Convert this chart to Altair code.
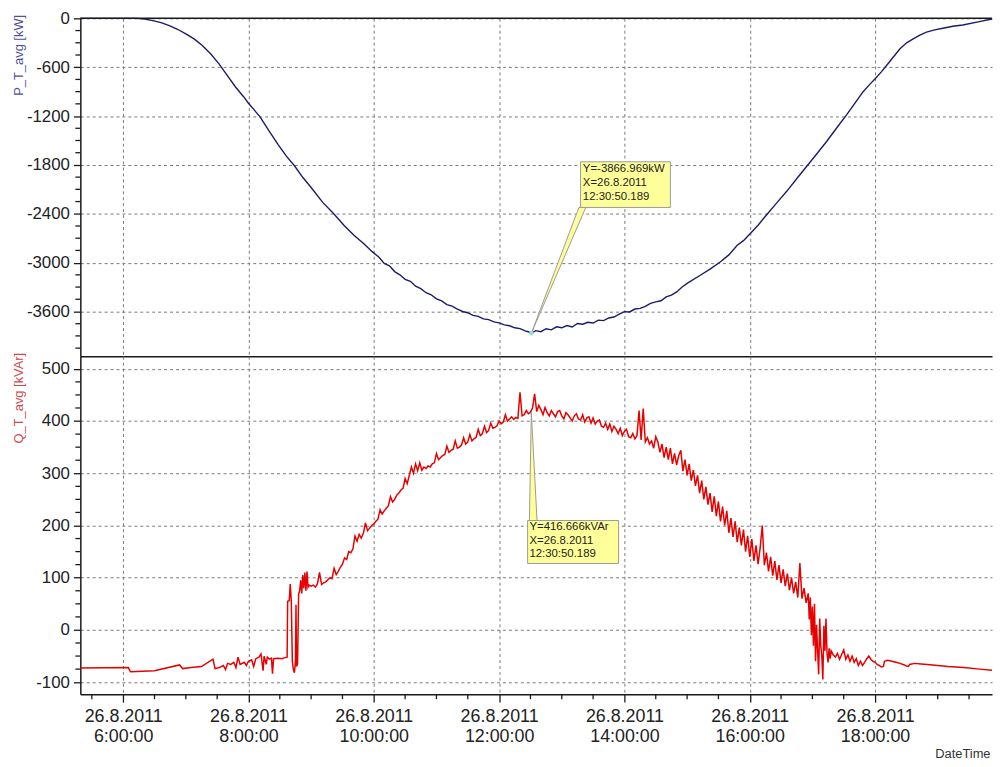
import altair as alt
import pandas as pd

# ---------------- data (minutes after midnight, 26.8.2011) ----------------
p_minutes = [319, 372.6, 380.5, 388.4, 396.3, 404.2, 412.1, 420, 427.9, 435.8, 443.7, 451.6, 459.5,
             467.4, 475.3, 480, 491.1, 498.9, 508.4, 516.3, 524.2, 532.1, 540, 551.1, 562.1, 571.6,
             581, 590.5, 598.7,
             605, 610, 615, 620, 625, 630, 635, 640, 645, 650, 655, 660, 665, 670, 675, 680,
             685, 690, 695, 700, 705, 710, 715, 720, 725, 730, 735, 740, 745, 750, 751,
             755, 760, 765, 770, 775, 780, 785, 790, 795, 800, 805, 810, 815, 820, 825, 830,
             835, 840, 845, 850, 855, 860, 865, 870, 875, 880, 885, 890, 895, 900,
             913, 922, 932, 940, 948, 954, 960.3, 968, 976.8, 986.3, 995.8, 1005.3, 1014.8, 1024.3,
             1033.8, 1043.2, 1052.7, 1060.6, 1068.6, 1074.9, 1080.3, 1086, 1091.2, 1097.5, 1103.9,
             1110.2, 1116.5, 1122.9, 1129.2, 1137.1, 1145, 1154.5, 1164, 1179.9, 1192]
p_values = [0, 0, -8, -28, -53, -89, -134, -190, -252, -333, -434, -556, -698,
            -840, -962, -1043, -1209, -1367, -1550, -1692, -1813, -1955, -2077, -2260, -2406, -2544,
            -2665, -2767, -2868,
            -2935, -3010, -3040, -3110, -3150, -3205, -3230, -3290, -3320, -3370, -3395, -3445, -3470, -3515, -3535, -3570,
            -3600, -3615, -3648, -3660, -3690, -3700, -3728, -3740, -3765, -3775, -3800, -3810, -3838, -3858, -3867,
            -3835, -3848, -3812, -3826, -3788, -3800, -3772, -3790, -3748, -3756, -3732, -3742, -3706, -3712, -3680, -3668,
            -3632, -3602, -3606, -3570, -3562, -3536, -3500, -3482, -3468, -3420, -3400, -3360, -3302, -3255,
            -3152, -3080, -2990, -2905, -2787, -2730, -2645, -2540, -2402, -2260, -2118, -1964, -1813, -1663,
            -1509, -1347, -1185, -1043, -901, -811, -738, -657, -576, -475, -373,
            -300, -252, -207, -170, -142, -122, -97, -81, -41, -8]

q_early_minutes = [319, 365, 367, 390, 414, 417, 425, 435, 446, 448, 452, 456, 458, 460, 463, 466,
                   468, 470, 472, 476, 478, 480, 483, 485, 487, 490, 492, 494, 495, 497, 498, 500,
                   502, 503, 504, 508, 512, 515, 517, 517.5, 519, 520, 521, 522, 523, 524, 525,
                   525.5, 526, 527, 528, 529, 530, 531, 532, 533, 534, 535, 536, 537, 538]
q_early_values = [-73, -72, -80, -78, -67, -74, -72, -70, -56, -74, -72, -68, -76, -64, -66, -62,
                  -72, -52, -66, -62, -68, -60, -57, -70, -55, -52, -46, -78, -50, -66, -52, -56,
                  -54, -84, -55, -54, -55, -53, -52, 55, 56, 88, 55, -60, -76, -82, -60,
                  48, -70, -65, 68, 75, 95, 70, 105, 80, 110, 75, 112, 82, 86]

q_rise_start, q_rise_step = 540, 2
q_rise_values = [84, 86, 82, 88, 110, 87, 90, 92, 96, 100,
                 98, 118, 106, 112, 120, 126, 138, 135, 150, 148,
                 155, 180, 170, 183, 176, 185, 205, 190, 195, 200,
                 203, 208, 212, 230, 222, 228, 233, 238, 255, 245,
                 250, 258, 262, 268, 271, 290, 280, 296, 312, 300,
                 318, 305, 320, 306, 312, 309, 314, 312, 318, 320,
                 338, 326, 330, 334, 336, 352, 340, 344, 346, 362,
                 348, 350, 354, 368, 356, 360, 374, 362, 366, 369,
                 384, 372, 376, 390, 378, 382, 396, 386, 388, 391,
                 400, 395, 398, 412, 400, 404, 408, 403, 407, 405,
                 455, 410, 412, 420, 414, 417]

q_fall_start, q_fall_step = 752, 2
q_fall_values = [425, 452, 418, 430, 422, 412, 426, 416, 410, 420,
                 414, 408, 418, 420, 410, 404, 416, 412, 406, 400,
                 410, 414, 404, 402, 412, 398, 406, 408, 396, 406,
                 394, 400, 402, 390, 388, 396, 384, 394, 380, 390,
                 384, 376, 386, 372, 380, 384, 370, 368, 376, 366,
                 372, 420, 364, 424, 360, 368, 356, 362, 348, 370,
                 360, 340, 356, 330, 350, 326, 348, 318, 338, 316,
                 334, 344, 304, 326, 296, 318, 286, 306, 276, 296,
                 262, 286, 250, 274, 240, 262, 226, 256, 218, 246,
                 208, 236, 200, 228, 186, 214, 178, 208, 168, 196,
                 162, 192, 150, 180, 140, 174, 132, 162, 126, 158,
                 200, 124, 148, 112, 140, 104, 132, 96, 124, 90,
                 116, 84, 108, 76, 100, 70, 92, 62, 128, 60,
                 80, 52, 70]

q_drop_minutes = [1017, 1018, 1019, 1020, 1021, 1022, 1023, 1024, 1025, 1026, 1027, 1028,
                  1029, 1030, 1031, 1032, 1033, 1034, 1035, 1036, 1037, 1038, 1040]
q_drop_values = [20, 62, -10, 45, -30, 50, -60, 10, -40, -85, 22, -30,
                 -50, -95, 8, -40, 22, -45, -62, -35, -55, -40, -48]

q_tail_minutes = [1042, 1044, 1046, 1048, 1050, 1052, 1054, 1056, 1058, 1060, 1062, 1064,
                  1066, 1068, 1070, 1072, 1074, 1076, 1078, 1080, 1082, 1084, 1086, 1088,
                  1089, 1092, 1096, 1100, 1104, 1108, 1110, 1112, 1113, 1118, 1124, 1130,
                  1140, 1150, 1165, 1180, 1192]
q_tail_values = [-52, -45, -56, -47, -38, -56, -48, -60, -50, -62, -55, -68,
                 -60, -68, -62, -55, -50, -56, -60, -62, -66, -68, -71, -70,
                 -60, -58, -60, -62, -64, -67, -69, -70, -66, -64, -65, -66,
                 -68, -70, -72, -75, -77]

# annotation (cursor at 12:30:50.189)
ann_t = 750.836
ann_p_lines = ["Y=-3866.969kW", "X=26.8.2011", "12:30:50.189"]
ann_q_lines = ["Y=416.666kVAr", "X=26.8.2011", "12:30:50.189"]
ann_p_value = -3866.969
ann_q_value = 416.666
# callout boxes in data units: t-left, t-right, value-top, value-bottom
p_box = [798.0, 884.0, -1762, -2322]
q_box = [747.3, 834.4, 209.5, 127.3]
# wedge pointers: (t, y, y2)
p_wedge_t = [ann_t, 796.4, 803.0]
p_wedge_y = [ann_p_value, -2322, -2322]
p_wedge_y2 = [ann_p_value, -2518, -2322]
q_wedge_t = [749.0, ann_t, 756.3]
q_wedge_y = [209.5, ann_q_value, 209.5]
q_wedge_y2 = [209.5, 209.5, 209.5]
p_text_pos = [800.2, -1783]
q_text_pos = [749.0, 208]

x_domain = [319, 1192]
x_major = list(range(360, 1192, 120))
x_minor = [m for m in range(330, 1192, 30) if m % 120 != 0]
p_domain = [-4150, 0]
p_major = list(range(0, -4151, -600))
p_minor = [v for v in range(0, -4151, -150) if v % 600 != 0]
q_domain = [-123, 524]
q_major = list(range(-100, 501, 100))
q_minor = [v for v in range(-100, 501, 25) if v % 100 != 0]

# ---------------- frames ----------------
p_df = pd.DataFrame({"t": p_minutes, "v": p_values})
q_minutes = (q_early_minutes
             + [q_rise_start + q_rise_step * i for i in range(len(q_rise_values))]
             + [q_fall_start + q_fall_step * i for i in range(len(q_fall_values))]
             + q_drop_minutes + q_tail_minutes)
q_vals = q_early_values + q_rise_values + q_fall_values + q_drop_values + q_tail_values
q_df = pd.DataFrame({"t": q_minutes, "v": q_vals})

FONT = "Liberation Sans"
W, H = 920, 341
YELLOW = "#ffff99"
EDGE = "#9a9a9a"
INK = "#1a1a1a"

x_scale = alt.Scale(domain=x_domain, nice=False, zero=False)
p_scale = alt.Scale(domain=p_domain, nice=False, zero=False)
q_scale = alt.Scale(domain=q_domain, nice=False, zero=False)

common = dict(domainColor=INK, domainWidth=1.5, tickColor=INK, tickWidth=1.3,
              gridColor="#7a7a7a", gridDash=[3, 3], gridWidth=1,
              labelFont=FONT, labelColor="#222222", titleFont=FONT, titleFontWeight="normal",
              labelOverlap=False, labelFlush=False)

top_x_axis = alt.Axis(values=x_major, labels=False, ticks=False, domain=True, grid=True,
                      title=None, orient="bottom", **common)

bottom_x_axis = alt.Axis(values=x_major, grid=True, tickSize=8,
                         labelExpr="['26.8.2011', floor(datum.value / 60) + ':00:00']",
                         labelFontSize=18, labelLineHeight=20, labelPadding=6,
                         title="DateTime", titleFontSize=13, titleColor="#333333",
                         titleX=W - 2, titleY=60, titleAlign="right", titleBaseline="middle",
                         orient="bottom", **common)


def y_axis(title, color, ticks):
    return alt.Axis(values=ticks, grid=True, tickSize=7,
                    labelExpr="'' + datum.value",
                    labelFontSize=17, labelPadding=4,
                    title=title, titleColor=color, titleFontSize=13,
                    titleX=-62, titleY=-4, titleAlign="right", titleBaseline="middle",
                    **common)


def y_minor_ticks(values, scale):
    return alt.Chart(pd.DataFrame({"v": values})).mark_rule(color=INK, strokeWidth=1.3).encode(
        y=alt.Y("v:Q", scale=scale), x=alt.value(-5), x2=alt.value(0))


# ---------------- top panel ----------------
p_line = alt.Chart(p_df).mark_line(color="#1b1b6b", strokeWidth=1.4).encode(
    x=alt.X("t:Q", scale=x_scale, axis=top_x_axis),
    y=alt.Y("v:Q", scale=p_scale, axis=y_axis("P_T_avg [kW]", "#4f4f9f", p_major)),
)
p_top_rule = alt.Chart(pd.DataFrame({"v": [p_domain[1]]})).mark_rule(
    color=INK, strokeWidth=1.5).encode(y=alt.Y("v:Q", scale=p_scale))

p_wedge = alt.Chart(pd.DataFrame({"t": p_wedge_t, "v": p_wedge_y, "v2": p_wedge_y2})).mark_area(
    fill=YELLOW, stroke=EDGE, strokeWidth=1).encode(
    x=alt.X("t:Q", scale=x_scale), y=alt.Y("v:Q", scale=p_scale), y2="v2:Q")
p_rect = alt.Chart(pd.DataFrame({"t": [p_box[0]], "t2": [p_box[1]], "v": [p_box[2]], "v2": [p_box[3]]})).mark_rect(
    fill=YELLOW, stroke=EDGE, strokeWidth=1).encode(
    x=alt.X("t:Q", scale=x_scale), x2="t2:Q", y=alt.Y("v:Q", scale=p_scale), y2="v2:Q")
p_text = alt.Chart(pd.DataFrame({"t": [p_text_pos[0]], "v": [p_text_pos[1]], "txt": [ann_p_lines]})).mark_text(
    align="left", baseline="top", font=FONT, fontSize=11.5, lineHeight=13.8, color="#222222").encode(
    x=alt.X("t:Q", scale=x_scale), y=alt.Y("v:Q", scale=p_scale), text="txt")
p_dot = alt.Chart(pd.DataFrame({"t": [ann_t], "v": [ann_p_value]})).mark_point(
    filled=True, color="#8fe0e0", size=22, opacity=1).encode(
    x=alt.X("t:Q", scale=x_scale), y=alt.Y("v:Q", scale=p_scale))

top = alt.layer(p_line, y_minor_ticks(p_minor, p_scale), p_top_rule, p_wedge, p_rect, p_text, p_dot).properties(
    width=W, height=H)

# ---------------- bottom panel ----------------
q_line = alt.Chart(q_df).mark_line(color="#e60000", strokeWidth=1.5).encode(
    x=alt.X("t:Q", scale=x_scale, axis=bottom_x_axis),
    y=alt.Y("v:Q", scale=q_scale, axis=y_axis("Q_T_avg [kVAr]", "#cc4a4a", q_major)),
)
x_minor_ticks = alt.Chart(pd.DataFrame({"t": x_minor})).mark_rule(color=INK, strokeWidth=1.3).encode(
    x=alt.X("t:Q", scale=x_scale), y=alt.value(H), y2=alt.value(H + 5))
q_wedge = alt.Chart(pd.DataFrame({"t": q_wedge_t, "v": q_wedge_y, "v2": q_wedge_y2})).mark_area(
    fill=YELLOW, stroke=EDGE, strokeWidth=1).encode(
    x=alt.X("t:Q", scale=x_scale), y=alt.Y("v:Q", scale=q_scale), y2="v2:Q")
q_rect = alt.Chart(pd.DataFrame({"t": [q_box[0]], "t2": [q_box[1]], "v": [q_box[2]], "v2": [q_box[3]]})).mark_rect(
    fill=YELLOW, stroke=EDGE, strokeWidth=1).encode(
    x=alt.X("t:Q", scale=x_scale), x2="t2:Q", y=alt.Y("v:Q", scale=q_scale), y2="v2:Q")
q_text = alt.Chart(pd.DataFrame({"t": [q_text_pos[0]], "v": [q_text_pos[1]], "txt": [ann_q_lines]})).mark_text(
    align="left", baseline="top", font=FONT, fontSize=11.5, lineHeight=13.5, color="#222222").encode(
    x=alt.X("t:Q", scale=x_scale), y=alt.Y("v:Q", scale=q_scale), text="txt")

bottom = alt.layer(q_line, y_minor_ticks(q_minor, q_scale), x_minor_ticks, q_wedge, q_rect, q_text).properties(
    width=W, height=H)

chart = alt.vconcat(top, bottom, spacing=0, bounds="flush").properties(
    padding={"left": 5, "top": -2, "right": 0, "bottom": 0}
).configure_view(stroke=None).configure_text(font=FONT)

chart.save("out.html", embed_options={"renderer": "svg", "actions": False})
